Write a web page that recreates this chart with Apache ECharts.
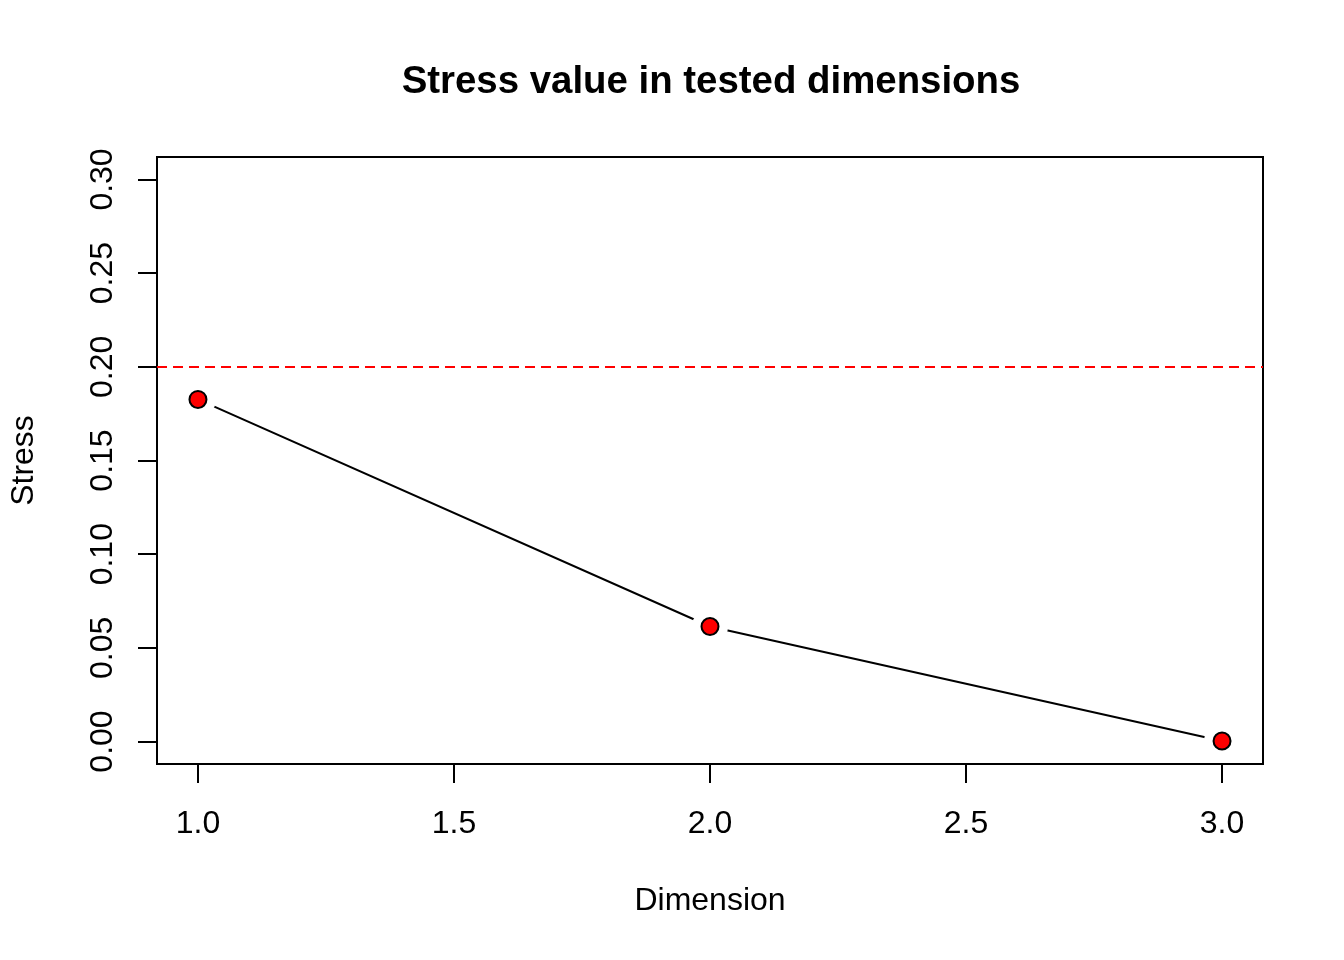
<!DOCTYPE html>
<html>
<head>
<meta charset="utf-8">
<script src="https://cdn.jsdelivr.net/npm/echarts@6/dist/echarts.min.js"></script>
<style>
  html, body { margin: 0; padding: 0; background: #fff; }
  #chart { width: 1344px; height: 960px; }
</style>
</head>
<body>
<div id="chart"></div>
<script>
// data
var dimensions = [1, 2, 3];
var stressValues = [0.1826, 0.0614, 0.0003];
var xTicks = [1.0, 1.5, 2.0, 2.5, 3.0];
var yTicks = [0.0, 0.05, 0.1, 0.15, 0.2, 0.25, 0.3];
var threshold = 0.2;

(function () {
  var myChart = echarts.init(document.getElementById("chart"));
  var font = "Liberation Sans, Arial, Helvetica, sans-serif";

  var points = dimensions.map(function (d, i) {
    return [d, stressValues[i]];
  });

  var option = {
    backgroundColor: "#fff",
    animation: false,
    textStyle: { fontFamily: font, color: "#000" },
    title: {
      text: "Stress value in tested dimensions",
      left: 706,
      textAlign: "center",
      top: 57,
      textStyle: {
        fontFamily: font,
        fontSize: 38.4,
        fontWeight: "bold",
        color: "#000",
        lineHeight: 40,
      },
    },
    grid: {
      left: 157,
      right: 81,
      top: 157,
      bottom: 196,
      show: true,
      borderColor: "#000",
      borderWidth: 2,
      backgroundColor: "transparent",
      containLabel: false,
      outerBoundsMode: "none",
    },
    xAxis: {
      type: "value",
      min: 0.92,
      max: 3.08,
      name: "Dimension",
      nameLocation: "middle",
      nameGap: 121,
      nameTextStyle: { fontFamily: font, fontSize: 32, lineHeight: 32, color: "#000" },
      axisLine: { show: false, onZero: false },
      splitLine: { show: false },
      axisTick: {
        show: true,
        length: 19,
        customValues: xTicks,
        lineStyle: { color: "#000", width: 2 },
      },
      axisLabel: {
        customValues: xTicks,
        margin: 44,
        fontFamily: font,
        fontSize: 32,
        lineHeight: 32,
        color: "#000",
        formatter: function (v) {
          return v.toFixed(1);
        },
      },
    },
    yAxis: {
      type: "value",
      min: -0.012,
      max: 0.312,
      name: "Stress",
      nameLocation: "middle",
      nameGap: 117,
      nameTextStyle: { fontFamily: font, fontSize: 32, lineHeight: 32, color: "#000" },
      axisLine: { show: false, onZero: false },
      splitLine: { show: false },
      axisTick: {
        show: true,
        length: 19,
        customValues: yTicks,
        lineStyle: { color: "#000", width: 2 },
      },
      axisLabel: {
        customValues: yTicks,
        rotate: 90,
        margin: 38,
        fontFamily: font,
        fontSize: 32,
        lineHeight: 32,
        color: "#000",
        formatter: function (v) {
          return v.toFixed(2);
        },
      },
    },
    series: [
      {
        // line with white discs under the points, like R type = "b"
        type: "line",
        data: points,
        symbol: "circle",
        symbolSize: 36,
        itemStyle: { color: "#fff", borderWidth: 0 },
        lineStyle: { color: "#000", width: 2 },
        z: 2,
        markLine: {
          silent: true,
          symbol: ["none", "none"],
          label: { show: false },
          lineStyle: { color: "#ff0000", width: 2, type: [10, 6] },
          data: [{ yAxis: threshold }],
        },
      },
      {
        type: "scatter",
        data: points,
        symbol: "circle",
        symbolSize: 17,
        itemStyle: { color: "#ff0000", borderColor: "#000", borderWidth: 2, opacity: 1 },
        z: 3,
      },
    ],
  };
  myChart.setOption(option);
  window.addEventListener("resize", function () {
    myChart.resize();
  });
})();
</script>
</body>
</html>
